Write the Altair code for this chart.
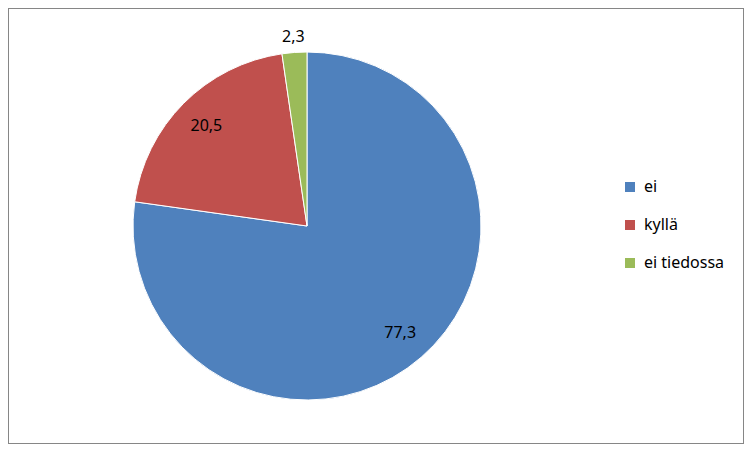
import altair as alt
import pandas as pd

categories = ["ei", "kyllä", "ei tiedossa"]
values = [77.3, 20.5, 2.3]
colors = ["#4F81BD", "#C0504D", "#9BBB59"]

df = pd.DataFrame({"category": categories, "value": values, "order": [0, 1, 2]})

CX, CY, R = 299, 218, 174
FONT = "Noto Sans"

base = alt.Chart(df).encode(
    theta=alt.Theta("value:Q", stack=True),
    order=alt.Order("order:Q"),
)

pie = base.mark_arc(radius=R, stroke="white", strokeWidth=1).encode(
    x=alt.value(CX),
    y=alt.value(CY),
    color=alt.Color(
        "category:N",
        scale=alt.Scale(domain=categories, range=colors),
        sort=categories,
        legend=alt.Legend(
            title=None,
            orient="none",
            legendX=614,
            legendY=171,
            symbolType="square",
            symbolSize=100,
            symbolStrokeWidth=0,
            labelFontSize=16,
            labelFont=FONT,
            labelColor="#000000",
            rowPadding=22,
            labelOffset=6,
        ),
    ),
)

label_expr = "replace(format(datum.value, '.1f'), '.', ',')"

inner = base.transform_calculate(lbl=label_expr).transform_filter("datum.value > 5").mark_text(
    radius=142, fontSize=16, font=FONT, color="#000000"
).encode(x=alt.value(CX), y=alt.value(CY), text="lbl:N")

outer = base.transform_calculate(lbl=label_expr).mark_text(
    radius=189, fontSize=16, font=FONT, color="#000000"
).encode(
    x=alt.value(CX),
    y=alt.value(CY),
    text=alt.condition("datum.value <= 5", "lbl:N", alt.value("")),
)

chart = (
    alt.layer(pie, inner, outer)
    .properties(width=736, height=436, autosize=alt.AutoSizeParams(type="none"), padding=0)
    .configure_view(stroke="#868686", strokeWidth=2)
)

chart.save("out.html", embed_options={"renderer": "svg", "actions": False})
